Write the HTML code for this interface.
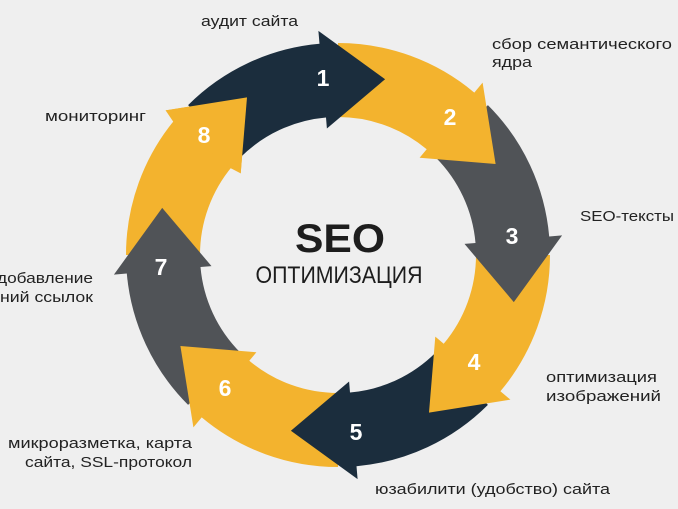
<!DOCTYPE html>
<html><head><meta charset="utf-8"><style>
html,body{margin:0;padding:0;background:#efefef;}
body{width:678px;height:509px;overflow:hidden;position:relative;font-family:"Liberation Sans","DejaVu Sans",sans-serif;}
svg{position:absolute;left:0;top:0;}
</style></head><body>
<svg id="s" width="678" height="509" viewBox="0 0 678 509" xmlns="http://www.w3.org/2000/svg">
<g id="arrows"></g>
<g font-family="Liberation Sans, DejaVu Sans, sans-serif" font-weight="bold" fill="#fff" font-size="23" text-anchor="middle">
<text x="323" y="86">1</text><text x="450" y="125">2</text><text x="512" y="244">3</text><text x="474" y="370">4</text>
<text x="356" y="440">5</text><text x="225" y="396">6</text><text x="161" y="275">7</text><text x="204" y="143">8</text>
</g>
<g font-family="Liberation Sans, DejaVu Sans, sans-serif" fill="#222" font-size="15" lengthAdjust="spacingAndGlyphs">
<text x="201" y="26" textLength="97" lengthAdjust="spacingAndGlyphs">аудит сайта</text>
<text x="492" y="49" textLength="180" lengthAdjust="spacingAndGlyphs">сбор семантического</text><text x="492" y="67" textLength="40" lengthAdjust="spacingAndGlyphs">ядра</text>
<text x="45" y="121" textLength="101" lengthAdjust="spacingAndGlyphs">мониторинг</text>
<text x="580" y="221" textLength="94" lengthAdjust="spacingAndGlyphs">SEO-тексты</text>
<text x="-3" y="283" textLength="96" lengthAdjust="spacingAndGlyphs">добавление</text><text x="0" y="302" textLength="93" lengthAdjust="spacingAndGlyphs">ний ссылок</text>
<text x="546" y="382" textLength="111" lengthAdjust="spacingAndGlyphs">оптимизация</text><text x="546" y="401" textLength="115" lengthAdjust="spacingAndGlyphs">изображений</text>
<text x="8" y="448" textLength="184" lengthAdjust="spacingAndGlyphs">микроразметка, карта</text><text x="25" y="467" textLength="167" lengthAdjust="spacingAndGlyphs">сайта, SSL-протокол</text>
<text x="375" y="494" textLength="235" lengthAdjust="spacingAndGlyphs">юзабилити (удобство) сайта</text>
</g>
<text x="340" y="252" text-anchor="middle" font-family="Liberation Sans, DejaVu Sans, sans-serif" font-weight="bold" font-size="40" fill="#1d1d1d" textLength="90" lengthAdjust="spacingAndGlyphs">SEO</text>
<text x="339" y="283" text-anchor="middle" font-family="Liberation Sans, DejaVu Sans, sans-serif" font-size="24" fill="#1d1d1d" textLength="167" lengthAdjust="spacingAndGlyphs">ОПТИМИЗАЦИЯ</text>
</svg>
<script>
(function(){
var cx=338,cy=255,R=212,r=138,HO=225,HI=127,TR=182;
var cols=["#1b2d3d","#f3b32e","#505357","#f3b32e","#1b2d3d","#f3b32e","#505357","#f3b32e"];
function P(a,rad){var t=a*Math.PI/180;return (cx+rad*Math.sin(t)).toFixed(1)+","+(cy-rad*Math.cos(t)).toFixed(1);}
function body(k){
  var t0=-45+45*k, hb=t0+40, tip=t0+60;
  return "M"+P(t0,R)+" A"+R+","+R+" 0 0 1 "+P(hb,R)+" L"+P(hb,HO)+" L"+P(tip,TR)+" L"+P(hb,HI)+" L"+P(hb,r)+" A"+r+","+r+" 0 0 0 "+P(t0,r)+" Z";
}
function head(k){
  var t0=-45+45*k, hb=t0+40, tip=t0+60;
  return "M"+P(hb-1,R)+" L"+P(hb,HO)+" L"+P(tip,TR)+" L"+P(hb,HI)+" L"+P(hb-1,r)+" Z";
}
var g=document.getElementById("arrows"),h="";
for(var k=7;k>=0;k--){h+='<path d="'+body(k)+'" fill="'+cols[k]+'"/>';}
h+='<path d="'+head(7)+'" fill="'+cols[7]+'"/>';
g.innerHTML=h;
})();
</script>
</body></html>
